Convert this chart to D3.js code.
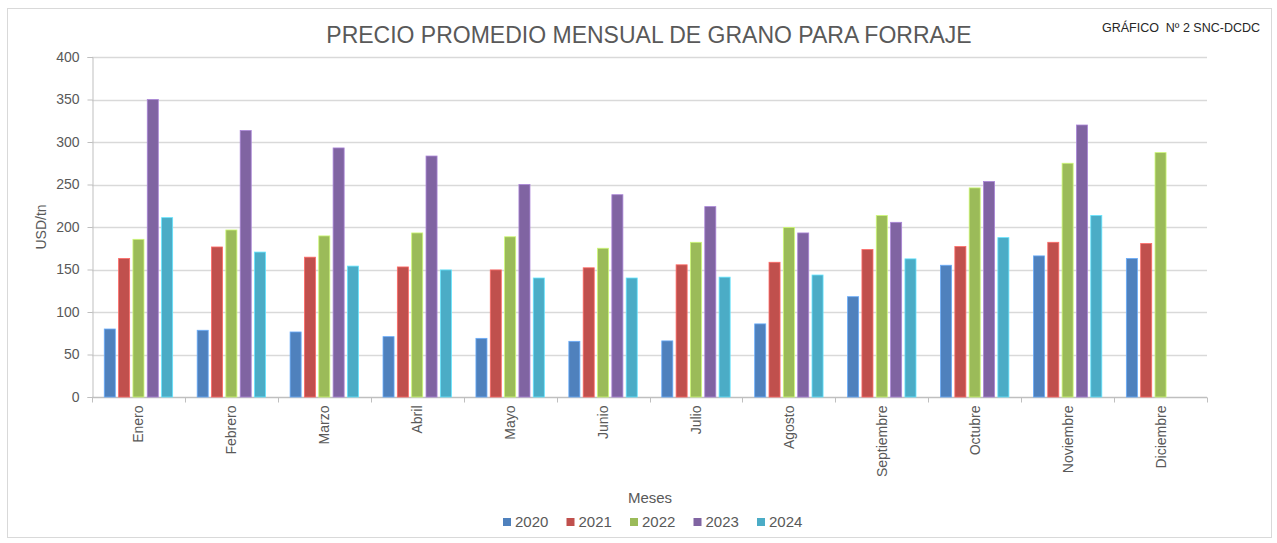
<!DOCTYPE html>
<html>
<head>
<meta charset="utf-8">
<script src="https://cdn.jsdelivr.net/npm/d3@7"></script>
<style>
  body { margin: 0; background: #fff; }
  svg { font-family: Arial, "Liberation Sans", sans-serif; }
</style>
</head>
<body>
<div id="chart"></div>
<script>
'use strict';

var months = ['Enero', 'Febrero', 'Marzo', 'Abril', 'Mayo', 'Junio', 'Julio',
    'Agosto', 'Septiembre', 'Octubre', 'Noviembre', 'Diciembre'];
var years = ['2020', '2021', '2022', '2023', '2024'];
var colors = ['#4F81BD', '#C0504D', '#9BBB59', '#8064A2', '#4BACC6'];
var yTicks = [0, 50, 100, 150, 200, 250, 300, 350, 400];

var v2020 = [80, 78.5, 76.5, 71, 69, 65.5, 66, 86, 118, 155, 166, 163];
var v2021 = [163, 176.5, 164.5, 153, 149.5, 152, 155.5, 158.5, 173.5, 177, 182, 180.5];
var v2022 = [185.5, 196.5, 189.5, 193, 188.5, 175, 182, 199.5, 213.5, 246, 275, 287.5];
var v2023 = [350, 313.5, 293, 283.5, 250, 238, 224, 193, 205.5, 253.5, 320, null];
var v2024 = [211, 170.5, 154, 149.5, 140, 140, 141, 143.5, 162.5, 187.5, 213.5, null];
var series = [v2020, v2021, v2022, v2023, v2024];

var width = 1277;
var height = 543;
var margin = { top: 57, left: 92, right: 70, bottom: 146 };

var svg = d3.select('#chart')
    .append('svg')
    .attr('width', width)
    .attr('height', height);

// outer chart frame
svg.append('rect')
    .attr('x', 7.5).attr('y', 8.5)
    .attr('width', width - 13).attr('height', height - 14)
    .attr('fill', 'none')
    .attr('stroke', '#d9d9d9');

var x0 = d3.scaleBand()
    .domain(months)
    .range([margin.left, width - margin.right])
    .paddingInner(0.264)
    .paddingOuter(0.132);

var x1 = d3.scaleBand()
    .domain(years)
    .range([0, x0.bandwidth()])
    .paddingInner(0.23)
    .paddingOuter(0);

var y = d3.scaleLinear()
    .domain([0, 400])
    .range([height - margin.bottom, margin.top]);

// gridlines
svg.append('g')
    .selectAll('line')
    .data(yTicks.slice(1))
    .enter()
    .append('line')
    .attr('x1', margin.left).attr('x2', width - margin.right)
    .attr('y1', function (d) { return Math.round(y(d)) + 0.5; })
    .attr('y2', function (d) { return Math.round(y(d)) + 0.5; })
    .attr('stroke', '#d9d9d9')
    .attr('stroke-width', 1.3);

// y axis
var yAxis = svg.append('g')
    .attr('transform', 'translate(' + (margin.left + 0.5) + ',0)')
    .call(d3.axisLeft(y).tickValues(yTicks).tickSize(5).tickPadding(8));
yAxis.select('.domain').attr('stroke', '#bfbfbf');
yAxis.selectAll('.tick line').attr('stroke', '#bfbfbf');
yAxis.selectAll('.tick text')
    .attr('fill', '#595959')
    .style('font-size', '14px');

// x axis, ticks at category boundaries
var xAxisG = svg.append('g')
    .attr('transform', 'translate(0,' + (Math.round(y(0)) + 0.5) + ')');
xAxisG.append('line')
    .attr('x1', margin.left).attr('x2', width - margin.right)
    .attr('stroke', '#bfbfbf').attr('stroke-width', 1.3);
xAxisG.selectAll('.sep')
    .data(d3.range(months.length + 1))
    .enter()
    .append('line')
    .attr('class', 'sep')
    .attr('x1', function (i) { return Math.round(margin.left + i * x0.step()) + 0.5; })
    .attr('x2', function (i) { return Math.round(margin.left + i * x0.step()) + 0.5; })
    .attr('y1', 0).attr('y2', 5)
    .attr('stroke', '#bfbfbf');
xAxisG.selectAll('.lbl')
    .data(months)
    .enter()
    .append('text')
    .attr('class', 'lbl')
    .attr('transform', function (d) {
        return 'translate(' + (x0(d) + x0.bandwidth() / 2 + 5) + ',8) rotate(-90)';
    })
    .attr('text-anchor', 'end')
    .attr('fill', '#595959')
    .style('font-size', '14px')
    .text(function (d) { return d; });

// bars
var groups = svg.append('g')
    .selectAll('g')
    .data(months)
    .enter()
    .append('g')
    .attr('transform', function (d) { return 'translate(' + x0(d) + ',0)'; });

groups.selectAll('rect')
    .data(function (d, i) {
        return years.map(function (yr, k) { return { year: yr, k: k, value: series[k][i] }; })
            .filter(function (e) { return e.value !== null; });
    })
    .enter()
    .append('rect')
    .attr('x', function (d) { return x1(d.year); })
    .attr('width', x1.bandwidth())
    .attr('y', function (d) { return y(d.value); })
    .attr('height', function (d) { return y(0) - y(d.value); })
    .attr('fill', function (d) { return colors[d.k]; })
    .attr('stroke', function (d) { return d3.color(colors[d.k]).brighter(0.8); })
    .attr('stroke-width', 0.8);

// titles
svg.append('text')
    .attr('x', 649).attr('y', 43)
    .attr('text-anchor', 'middle')
    .attr('fill', '#595959')
    .style('font-size', '23px')
    .text('PRECIO PROMEDIO MENSUAL DE GRANO PARA FORRAJE');

svg.append('text')
    .attr('x', 1260).attr('y', 32)
    .attr('text-anchor', 'end')
    .attr('fill', '#262626')
    .style('font-size', '12.5px')
    .style('white-space', 'pre')
    .text('GRÁFICO  Nº 2 SNC-DCDC');

svg.append('text')
    .attr('transform', 'translate(46,' + ((y(0) + y(400)) / 2) + ') rotate(-90)')
    .attr('text-anchor', 'middle')
    .attr('fill', '#595959')
    .style('font-size', '14px')
    .text('USD/tn');

svg.append('text')
    .attr('x', 650).attr('y', 503)
    .attr('text-anchor', 'middle')
    .attr('fill', '#595959')
    .style('font-size', '15px')
    .text('Meses');

// legend
var legend = svg.append('g')
    .selectAll('g')
    .data(years)
    .enter()
    .append('g')
    .attr('transform', function (d, i) { return 'translate(' + (503 + i * 63.5) + ',518)'; });
legend.append('rect')
    .attr('width', 8).attr('height', 8)
    .attr('fill', function (d, i) { return colors[i]; });
legend.append('text')
    .attr('x', 12).attr('y', 9)
    .attr('fill', '#595959')
    .style('font-size', '15px')
    .text(function (d) { return d; });
</script>
</body>
</html>
